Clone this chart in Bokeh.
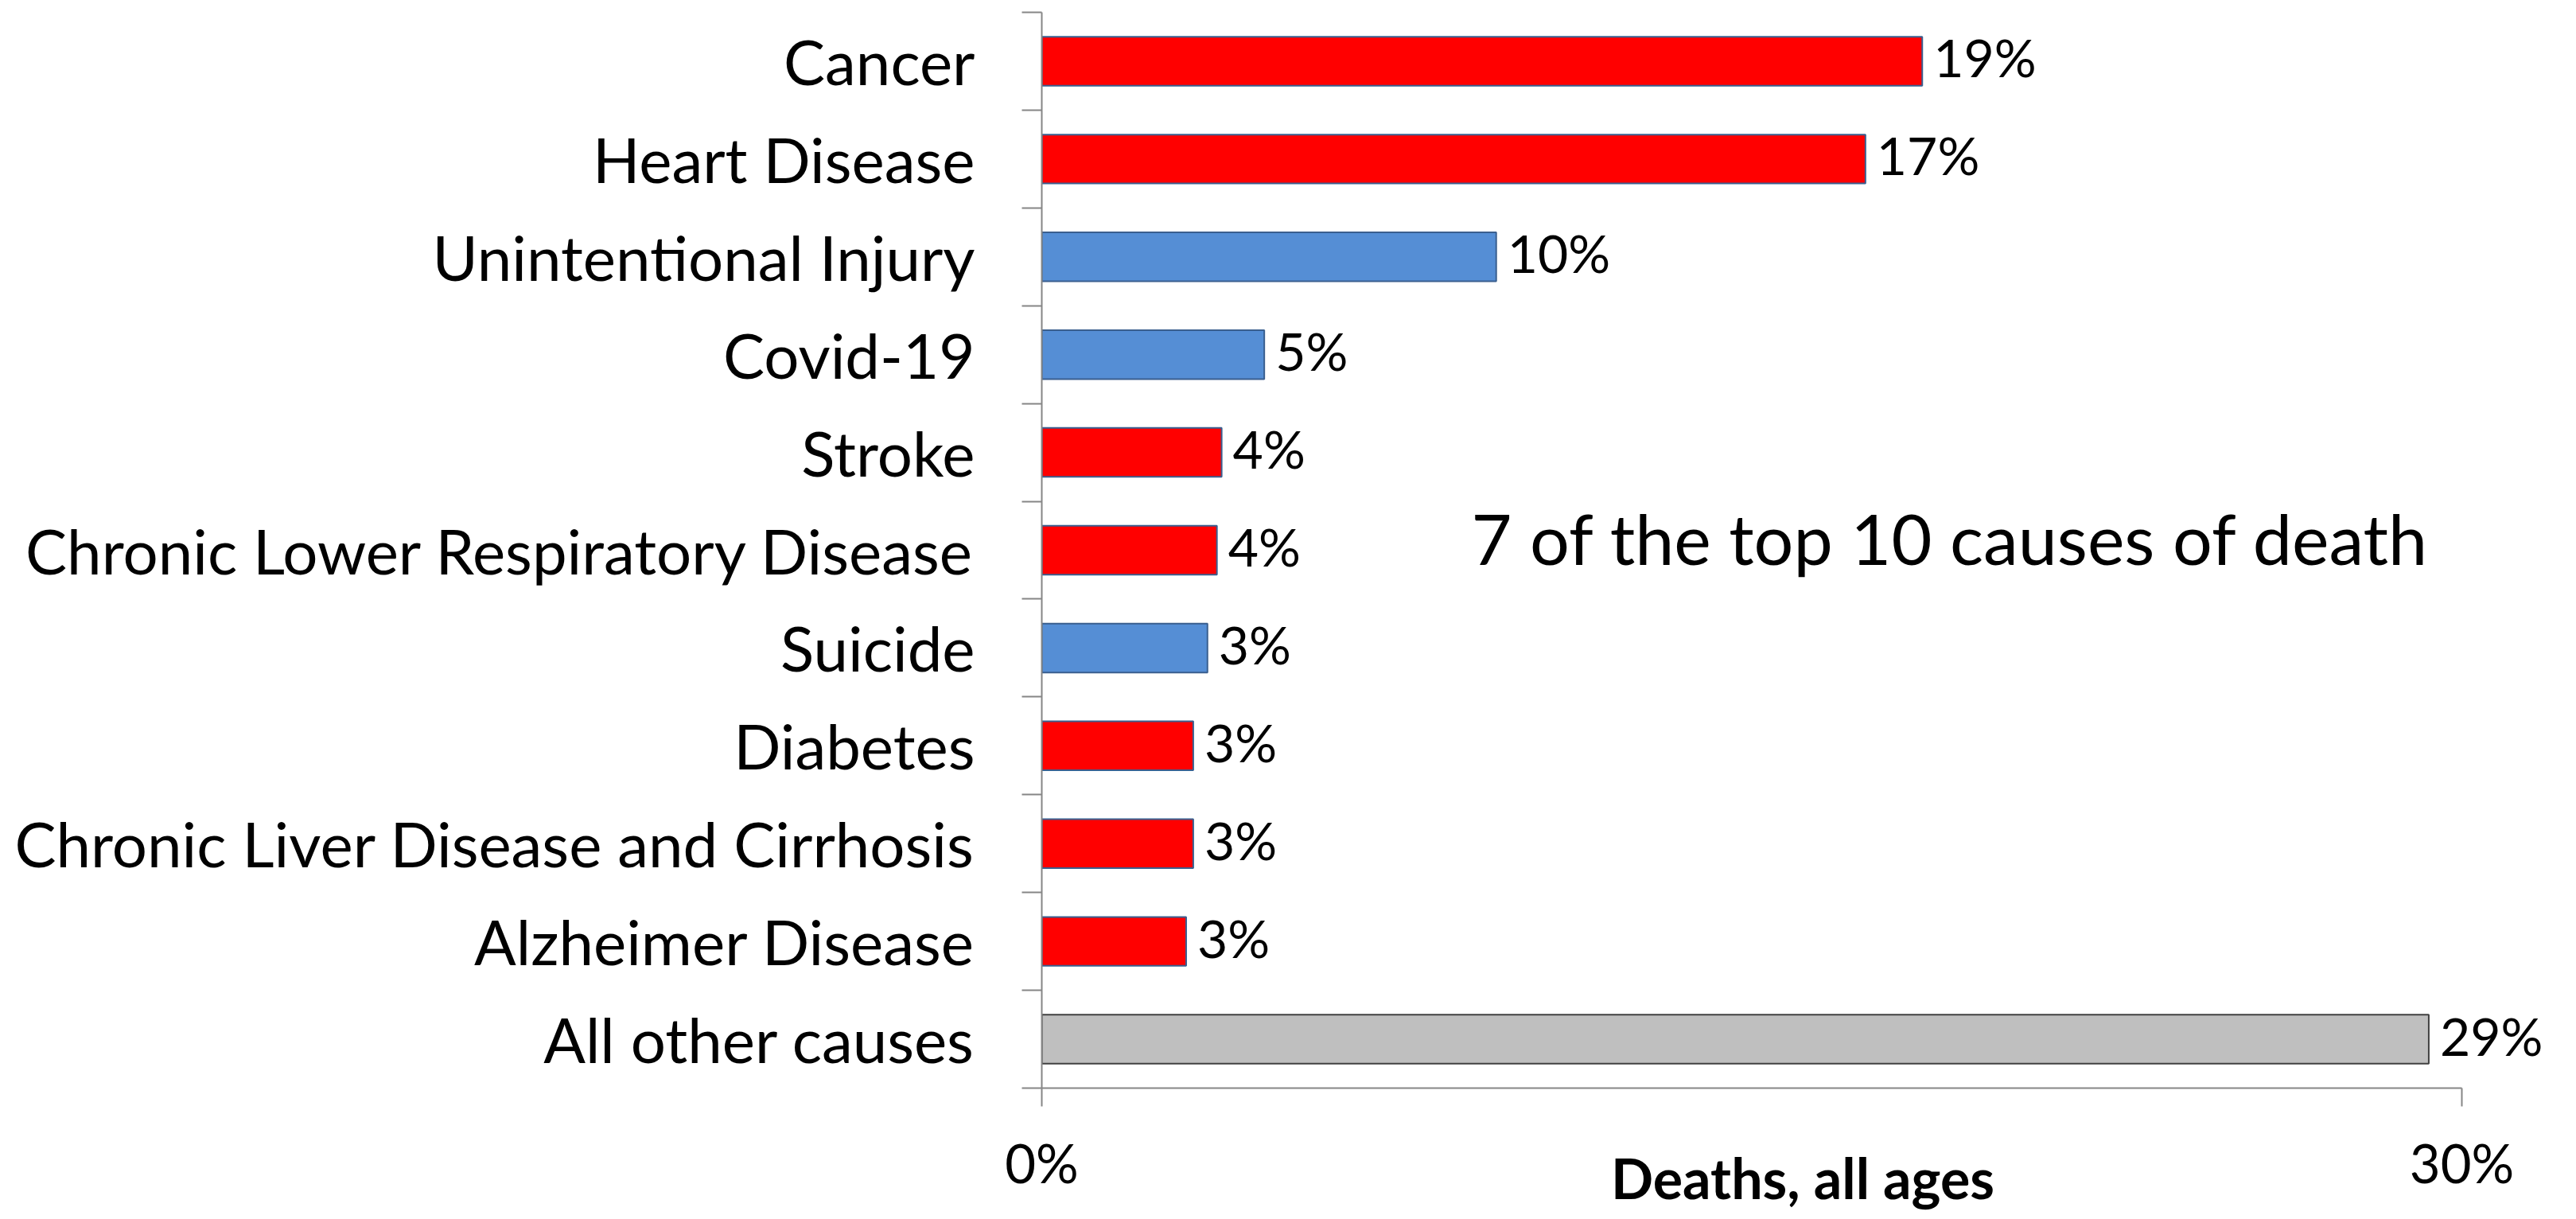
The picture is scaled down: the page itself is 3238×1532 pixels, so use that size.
from bokeh.plotting import figure
from bokeh.models import ColumnDataSource, Range1d, FixedTicker, Label, PrintfTickFormatter
from bokeh.core.properties import value
from bokeh.embed import file_html
from bokeh.resources import INLINE

causes = ["Cancer", "Heart Disease", "Unintentional Injury", "Covid-19", "Stroke",
          "Chronic Lower Respiratory Disease", "Suicide", "Diabetes",
          "Chronic Liver Disease and Cirrhosis", "Alzheimer Disease", "All other causes"]
shares = [18.6, 17.4, 9.6, 4.7, 3.8, 3.7, 3.5, 3.2, 3.2, 3.05, 29.3]
share_labels = ["19%", "17%", "10%", "5%", "4%", "4%", "3%", "3%", "3%", "3%", "29%"]
groups = ["top", "top", "other_top", "other_top", "top", "top", "other_top", "top", "top", "top", "rest"]
x_ticks = [0, 30]
annotation = "7 of the top 10 causes of death"
x_title = "Deaths, all ages"

fill_map = {"top": "#FF0000", "other_top": "#558ED5", "rest": "#BFBFBF"}
line_map = {"top": "#3A5F8F", "other_top": "#3A5F8F", "rest": "#404040"}

n = len(causes)
ypos = [n - 1 - i for i in range(n)]
src = ColumnDataSource(dict(
    y=ypos, v=shares, lab=share_labels, name=causes,
    fill=[fill_map[g] for g in groups], line=[line_map[g] for g in groups],
))

FONT = "Lato"

p = figure(width=3222, height=1524, output_backend="svg", toolbar_location=None,
           x_range=Range1d(0, 32.15), y_range=Range1d(-0.5, n - 0.5),
           min_border_left=1309, min_border_right=0, min_border_top=15, min_border_bottom=156)
p.outline_line_color = None
p.grid.grid_line_color = None
p.background_fill_color = "white"
p.border_fill_color = "white"

p.hbar(y="y", right="v", left=0, height=0.5, source=src,
       fill_color="fill", line_color="line", line_width=2)

p.text(x="v", y="y", text="lab", source=src, x_offset=14, y_offset=-5,
       text_baseline="middle", text_align="left",
       text_font=value(FONT), text_font_size="66px", text_color="black")

# y axis
ya = p.yaxis[0]
ya.ticker = FixedTicker(ticks=ypos, minor_ticks=[k - 0.5 for k in range(n + 1)])
ya.major_label_overrides = {yy: nm for yy, nm in zip(ypos, causes)}
ya.major_tick_out = 0
ya.major_tick_in = 0
ya.minor_tick_out = 25
ya.minor_tick_in = 0
ya.minor_tick_line_color = "#868686"
ya.minor_tick_line_width = 2
ya.axis_line_color = "#868686"
ya.axis_line_width = 2
ya.major_label_standoff = 59
ya.major_label_text_font = FONT
ya.major_label_text_font_size = "78px"
ya.major_label_text_color = "black"

# x axis
xa = p.xaxis[0]
xa.bounds = (0, 30)
xa.ticker = FixedTicker(ticks=x_ticks, minor_ticks=[])
xa.formatter = PrintfTickFormatter(format="%d%%")
xa.major_tick_out = 23
xa.major_tick_in = 0
xa.major_tick_line_color = "#868686"
xa.major_tick_line_width = 2
xa.axis_line_color = "#868686"
xa.axis_line_width = 2
xa.major_label_standoff = 30
xa.major_label_text_font = FONT
xa.major_label_text_font_size = "67px"
xa.major_label_text_color = "black"
xa.axis_label = x_title
xa.axis_label_standoff = -66
xa.axis_label_text_font = FONT
xa.axis_label_text_font_size = "70px"
xa.axis_label_text_font_style = "bold"
xa.axis_label_text_color = "black"

p.add_layout(Label(x=19.2, y=5.13, text=annotation, text_align="center", text_baseline="middle",
                   text_font=FONT, text_font_size="88px", text_color="black"))

open("out.html", "w").write(file_html(p, INLINE))
